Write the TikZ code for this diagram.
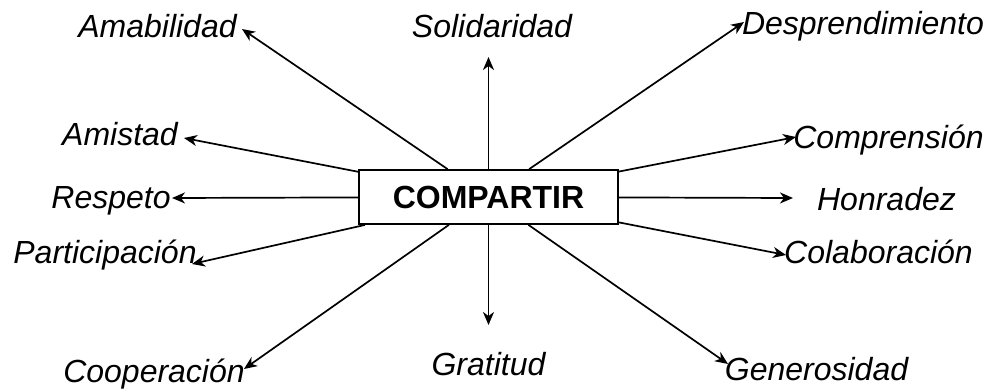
\documentclass[tikz,border=0pt]{standalone}
\usepackage{fontspec}
\setmainfont{Liberation Sans}
\usetikzlibrary{arrows.meta}

\begin{document}
\begin{tikzpicture}
  [x=1pt,y=-1pt,
   every node/.style={font=\fontsize{32}{36}\selectfont\itshape,inner sep=0pt,anchor=base},
   centro/.style={draw,line width=1.8pt,font=\fontsize{32}{36}\selectfont\bfseries,
     minimum width=259pt,minimum height=54pt,anchor=center},
   flecha/.style={line width=1.7pt,-{Stealth[length=13pt,width=11pt,inset=4pt]}}]
  \useasboundingbox (0,0) rectangle (990,389);

  \node[centro] (comp) at (488.5,197) {COMPARTIR};

  \node (amab) at (157.5,37) {Amabilidad};
  \node (soli) at (492,37)   {Solidaridad};
  \node (desp) at (863,34)   {Desprendimiento};
  \node (amis) at (120,145)  {Amistad};
  \node (resp) at (111,208)  {Respeto};
  \node (part) at (105,263)  {Participación};
  \node (coop) at (154,382)  {Cooperación};
  \node (grat) at (488.5,375) {Gratitud};
  \node (gene) at (816.5,380) {Generosidad};
  \node (comr) at (888.5,148) {Comprensión};
  \node (honr) at (886.5,210) {Honradez};
  \node (cola) at (878.5,263) {Colaboración};

  \coordinate (tamab) at (242,29);
  \coordinate (tsoli) at (488.5,57);
  \coordinate (tdesp) at (744,22);
  \coordinate (tamis) at (184,138);
  \coordinate (tresp) at (172,198);
  \coordinate (tpart) at (192,264);
  \coordinate (tcoop) at (244,369);
  \coordinate (tgrat) at (488.5,325);
  \coordinate (tgene) at (728,364);
  \coordinate (tcomr) at (796,137);
  \coordinate (thonr) at (793,198);
  \coordinate (tcola) at (786,255);

  \foreach \to in {tamab,tsoli,tdesp,tamis,tresp,tpart,tcoop,tgrat,tgene,tcomr,thonr,tcola}
    \draw[flecha] (comp) -- (\to);
\end{tikzpicture}
\end{document}
